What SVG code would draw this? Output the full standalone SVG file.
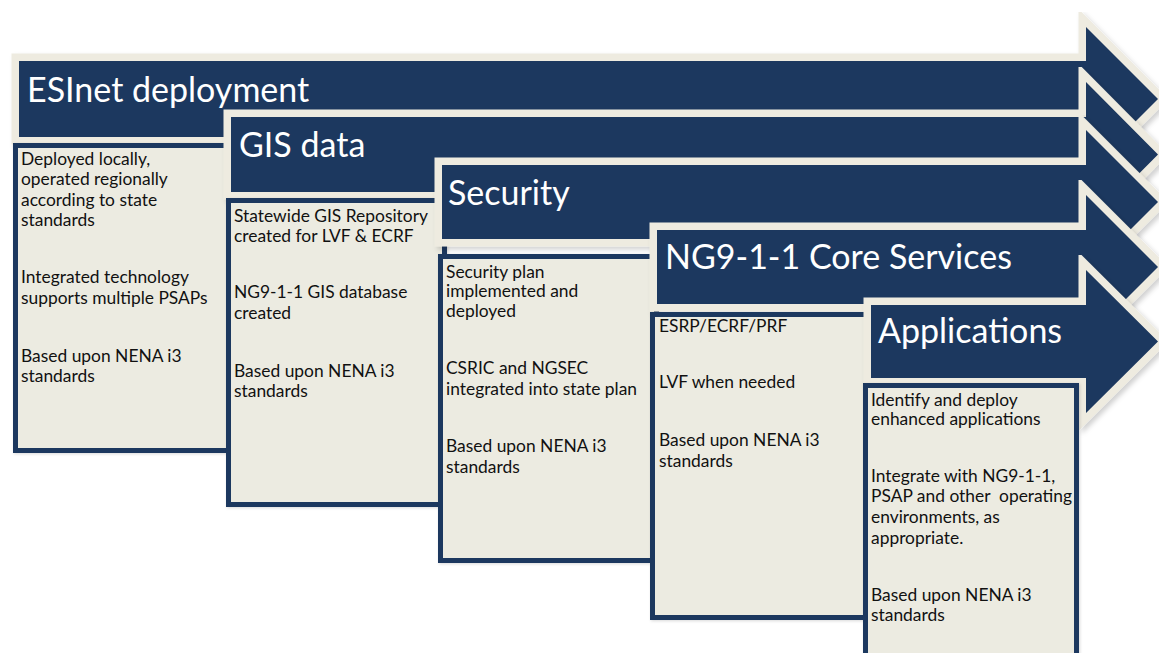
<svg xmlns="http://www.w3.org/2000/svg" width="1159" height="653" viewBox="0 0 1159 653">
<style>
.arrow{fill:#1b375e;stroke:#eeebe0;stroke-width:15;stroke-linejoin:miter;stroke-miterlimit:10;paint-order:stroke;filter:url(#sh)}
.box{fill:#ecebe1;stroke:#1b375e;stroke-width:5;filter:url(#sh2)}
.hd{font-family:Lato,"Liberation Sans",sans-serif;font-size:34px;fill:#ffffff}
.tx{font-family:Lato,"Liberation Sans",sans-serif;font-size:17.4px;fill:#111111;white-space:pre}
</style>
<defs>
<filter id="sh" x="-5%" y="-10%" width="110%" height="130%">
<feDropShadow dx="3" dy="3" stdDeviation="2.5" flood-color="#000" flood-opacity="0.18"/>
</filter>
<filter id="sh2" x="-5%" y="-5%" width="110%" height="110%">
<feDropShadow dx="1" dy="1" stdDeviation="1.5" flood-color="#000" flood-opacity="0.15"/>
</filter>
</defs>
<rect width="1159" height="653" fill="#ffffff"/>

<g id="stage1">
<path class="arrow" d="M19,61 H1086 V27 L1158,99 L1086,171 V137 H19 Z"/>
<text class="hd" x="27" y="102">ESInet deployment</text>
<rect class="box" x="15.5" y="145.5" width="216" height="305"/>
<text class="tx"><tspan x="21" y="165">Deployed locally,</tspan><tspan x="21" y="185">operated regionally</tspan><tspan x="21" y="206">according to state</tspan><tspan x="21" y="226">standards</tspan><tspan x="21" y="283">Integrated technology</tspan><tspan x="21" y="304">supports multiple PSAPs</tspan><tspan x="21" y="362">Based upon NENA i3</tspan><tspan x="21" y="382">standards</tspan></text>
</g>

<g id="stage2">
<path class="arrow" d="M231,117 H1086 V82 L1158,154.5 L1086,227 V192 H231 Z"/>
<text class="hd" x="239" y="157">GIS data</text>
<rect class="box" x="228.5" y="200.5" width="216" height="304"/>
<text class="tx"><tspan x="234" y="222">Statewide GIS Repository</tspan><tspan x="234" y="242">created for LVF &amp; ECRF</tspan><tspan x="234" y="298">NG9-1-1 GIS database</tspan><tspan x="234" y="319">created</tspan><tspan x="234" y="377">Based upon NENA i3</tspan><tspan x="234" y="397">standards</tspan></text>
</g>

<g id="stage3">
<path class="arrow" d="M442,165 H1086 V130 L1158,202 L1086,274 V239 H442 Z"/>
<text class="hd" x="448" y="205">Security</text>
<rect class="box" x="440.5" y="256.5" width="216" height="304"/>
<text class="tx"><tspan x="446" y="278">Security plan</tspan><tspan x="446" y="297">implemented and</tspan><tspan x="446" y="317">deployed</tspan><tspan x="446" y="374">CSRIC and NGSEC</tspan><tspan x="446" y="395">integrated into state plan</tspan><tspan x="446" y="452">Based upon NENA i3</tspan><tspan x="446" y="473">standards</tspan></text>
</g>

<g id="stage4">
<path class="arrow" d="M657,230 H1086 V195 L1158,267 L1086,339 V304 H657 Z"/>
<text class="hd" x="665" y="269">NG9-1-1 Core Services</text>
<rect class="box" x="652.5" y="314.5" width="216" height="303"/>
<text class="tx"><tspan x="659" y="332">ESRP/ECRF/PRF</tspan><tspan x="659" y="388">LVF when needed</tspan><tspan x="659" y="446">Based upon NENA i3</tspan><tspan x="659" y="467">standards</tspan></text>
</g>

<g id="stage5">
<path class="arrow" d="M871,305 H1086 V270 L1158,341.5 L1086,413 V378 H871 Z"/>
<text class="hd" x="878" y="343">Applications</text>
<rect class="box" x="865.5" y="385.5" width="211" height="300"/>
<text class="tx" xml:space="preserve"><tspan x="871" y="406">Identify and deploy</tspan><tspan x="871" y="425">enhanced applications</tspan><tspan x="871" y="482">Integrate with NG9-1-1,</tspan><tspan x="871" y="502">PSAP and other  operating</tspan><tspan x="871" y="523">environments, as</tspan><tspan x="871" y="544">appropriate.</tspan><tspan x="871" y="601">Based upon NENA i3</tspan><tspan x="871" y="621">standards</tspan></text>
</g>

<g id="connectors"></g>
</svg>
